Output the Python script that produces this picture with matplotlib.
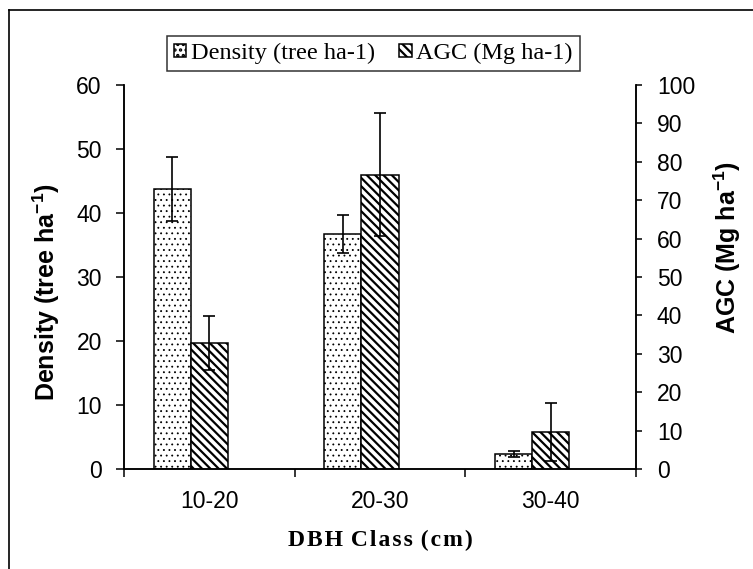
import numpy as np
import matplotlib
matplotlib.use('Agg')
import matplotlib.pyplot as plt
from matplotlib.lines import Line2D

# data
classes = ['10-20', '20-30', '30-40']
density = [43.7, 36.7, 2.3]
density_err = [5.0, 3.0, 0.5]
agc = [32.9, 76.6, 9.7]
agc_err = [7.0, 16.0, 7.5]

plt.rcParams['font.family'] = 'Liberation Sans'

fig = plt.figure(figsize=(7.53, 5.69), dpi=100)
ax = fig.add_axes([124/753, 1-469/569, 512/753, 384/569])
ax2 = ax.twinx()

x = np.arange(len(classes))
w = 0.217

# density bars sit left of the category centre, AGC bars on it (excel layout)
plt.rcParams['hatch.linewidth'] = 0.6
b1 = ax.bar(x - w, density, w, align='center', color='white', edgecolor='black',
            linewidth=1.1, hatch='...', label='Density (tree ha-1)', zorder=2)
ax.errorbar(x - w, density, yerr=density_err, fmt='none', ecolor='black',
            elinewidth=1.2, capsize=4.3, capthick=1.2, zorder=3)
plt.rcParams['hatch.linewidth'] = 1.6
b2 = ax2.bar(x, agc, w, color='white', edgecolor='black', linewidth=1.1,
             hatch='\\\\\\\\', label='AGC (Mg ha-1)', zorder=2)
ax2.errorbar(x, agc, yerr=agc_err, fmt='none', ecolor='black',
             elinewidth=1.2, capsize=4.3, capthick=1.2, zorder=3)
for p in b1:
    if hasattr(p, 'set_hatch_linewidth'):
        p.set_hatch_linewidth(0.6)
for p in b2:
    if hasattr(p, 'set_hatch_linewidth'):
        p.set_hatch_linewidth(1.6)

ax.set_xlim(-0.5, 2.5)
ax.set_ylim(0, 60)
ax2.set_ylim(0, 100)
ax.set_yticks(range(0, 61, 10))
ax2.set_yticks(range(0, 101, 10))

# excel style category ticks between groups
ax.set_xticks([-0.5, 0.5, 1.5, 2.5])
ax.set_xticklabels([])
ax.set_xticks(x, minor=True)
ax.set_xticklabels(classes, minor=True, fontsize=16.5)
ax.tick_params(axis='x', which='major', direction='out', length=6, width=1.1)
ax.tick_params(axis='x', which='minor', length=0, pad=15)
ax.tick_params(axis='y', direction='out', length=5.5, width=1.1, labelsize=16.5, pad=10.5)
ax2.tick_params(axis='y', direction='out', length=4, width=1.1, labelsize=16.5, pad=11)

for a in (ax, ax2):
    a.spines['top'].set_visible(False)
    for s in ('left', 'right', 'bottom'):
        a.spines[s].set_linewidth(1.1)

ax.set_ylabel('Density (tree ha$^{\\mathregular{-1}}$)', fontsize=18, fontweight='bold')
ax.yaxis.set_label_coords(-0.121, 0.46)
ax2.set_ylabel('AGC (Mg ha$^{\\mathregular{-1}}$)', fontsize=18, fontweight='bold')
ax2.yaxis.set_label_coords(1.148, 0.578)
ax.set_xlabel('D\u200aB\u200aH\u200a C\u200al\u200aa\u200as\u200as\u200a (\u200ac\u200am\u200a)',
              fontsize=17, fontweight='bold', family='Liberation Serif', labelpad=12)

fig.legend(handles=[b1, b2], loc='center', bbox_to_anchor=(373.5/753, 1-53.5/569),
           ncol=2, frameon=True, fancybox=False, edgecolor='black',
           prop={'family': 'Liberation Serif', 'size': 17.5},
           handlelength=0.5, handleheight=0.5, handletextpad=0.2,
           columnspacing=1.0, borderpad=0.3, borderaxespad=0)
fig.legends[0].get_frame().set_linewidth(1.1)

# outer chart border (only left and top visible)
fig.add_artist(Line2D([9/753, 9/753], [0, 1-10/569], color='black', lw=1.2))
fig.add_artist(Line2D([9/753, 1], [1-10/569, 1-10/569], color='black', lw=1.2))

fig.savefig('out.png', dpi=100)
